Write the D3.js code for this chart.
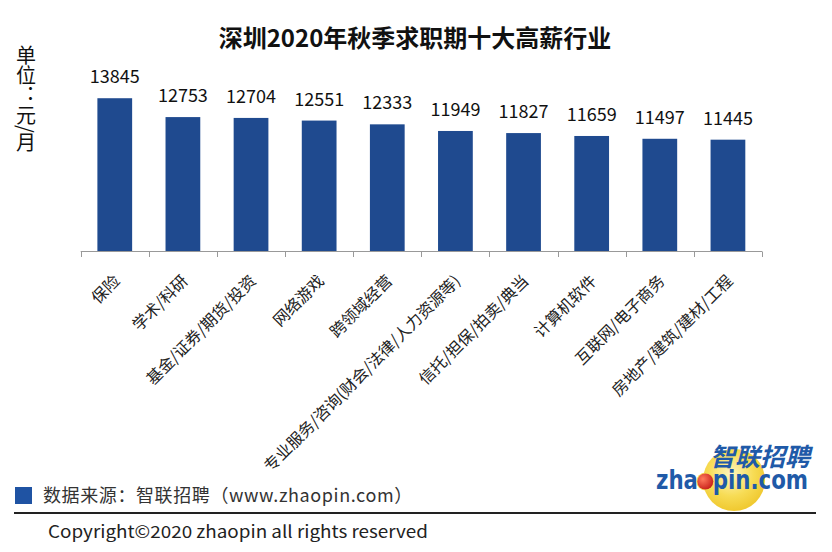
<!DOCTYPE html>
<html><head><meta charset="utf-8">
<script src="https://cdn.jsdelivr.net/npm/d3@7"></script>
<style>
html,body{margin:0;padding:0;background:#fff;}
svg{display:block;font-family:"Noto Sans CJK SC","Noto Sans",sans-serif;}
</style></head>
<body><svg id="c" width="832" height="552"></svg>
<script>
const title = "深圳2020年秋季求职期十大高薪行业";
const categories = ["保险","学术/科研","基金/证券/期货/投资","网络游戏","跨领域经营","专业服务/咨询(财会/法律/人力资源等)","信托/担保/拍卖/典当","计算机软件","互联网/电子商务","房地产/建筑/建材/工程"];
const values = [13845,12753,12704,12551,12333,11949,11827,11659,11497,11445];
const yUnitLabel = "单位：元/月";
const sourceText = "数据来源：智联招聘（www.zhaopin.com）";
const copyright = "Copyright©2020 zhaopin all rights reserved";
const logoCn = "智联招聘";
const logoEn = "zhaopin.com";

const svg = d3.select("#c");
const barColor = "#1f4a8f";

const x = d3.scaleBand().domain(categories).range([80.7, 762]).paddingInner(0.49).paddingOuter(0.245);
const y = d3.scaleLinear().domain([5000, 16000]).range([251, 61]);

// title
svg.append("text").attr("x", 415).attr("y", 47).attr("text-anchor","middle")
  .attr("font-size", 24).attr("font-weight", 700).attr("fill","#111").text(title);

// y unit label (vertical writing)
svg.append("text").attr("x", 26).attr("y", 45)
  .attr("writing-mode","vertical-rl").attr("font-size", 20).attr("fill","#111")
  .text(yUnitLabel);

// bars
svg.append("g").selectAll("rect").data(values).join("rect")
  .attr("x", (d,i)=>x(categories[i]))
  .attr("width", x.bandwidth())
  .attr("y", d=>y(d))
  .attr("height", d=>y.range()[0]-y(d))
  .attr("fill", barColor);

// value labels
svg.append("g").selectAll("text").data(values).join("text")
  .attr("x", (d,i)=>x(categories[i])+x.bandwidth()/2)
  .attr("y", d=>y(d)-15)
  .attr("text-anchor","middle").attr("font-size", 18).attr("fill","#111")
  .text(d=>d);

// x axis line + ticks at category boundaries
const ax = svg.append("g").attr("stroke","#999").attr("stroke-width",1);
const [x0,x1] = x.range();
ax.append("line").attr("x1",x0).attr("x2",x1).attr("y1",251.5).attr("y2",251.5);
d3.range(categories.length+1).forEach(i=>{
  const tx = Math.round(x0 + i*x.step())+0.5;
  ax.append("line").attr("x1",tx).attr("x2",tx).attr("y1",251.5).attr("y2",257);
});

// category labels
svg.append("g").selectAll("text").data(categories).join("text")
  .attr("transform", d=>`translate(${x(d)+x.bandwidth()/2+6},${282}) rotate(-45)`)
  .attr("text-anchor","end").attr("font-size", 16).attr("fill","#222")
  .text(d=>d);

// footer
svg.append("rect").attr("x",15).attr("y",487).attr("width",17).attr("height",17).attr("fill","#1f53a3");
svg.append("text").attr("x",43).attr("y",502).attr("font-size",18).attr("fill","#333")
  .attr("letter-spacing",0.6).text(sourceText);
svg.append("line").attr("x1",14).attr("x2",816).attr("y1",513).attr("y2",513).attr("stroke","#222").attr("stroke-width",2);
svg.append("text").attr("x",48).attr("y",538).attr("font-size",17).attr("fill","#222")
  .attr("textLength",380).attr("lengthAdjust","spacingAndGlyphs").text(copyright);

// logo
const logo = svg.append("g");
const grad = svg.append("defs").append("radialGradient").attr("id","yg").attr("cx","45%").attr("cy","40%").attr("r","60%");
grad.append("stop").attr("offset","0%").attr("stop-color","#fff6c0");
grad.append("stop").attr("offset","60%").attr("stop-color","#f7dc55");
grad.append("stop").attr("offset","100%").attr("stop-color","#f0c930");
logo.append("circle").attr("cx",734).attr("cy",480).attr("r",31).attr("fill","url(#yg)");
logo.append("text").attr("x",810).attr("y",466).attr("text-anchor","end").attr("font-size",25)
  .attr("font-weight",700).attr("font-style","italic").attr("fill","#1f5aa8").text(logoCn);
const zt = logo.append("text").attr("x",656).attr("y",489).attr("font-size",26)
  .attr("font-family","'DejaVu Sans',sans-serif").attr("font-weight",700).attr("fill","#1f5aa8")
  .attr("textLength",152).attr("lengthAdjust","spacingAndGlyphs").text(logoEn);
// red ball over the "o"
const oi = logoEn.indexOf("o");
const ext = zt.node().getExtentOfChar(oi);
const ballR = 8;
logo.append("circle").attr("cx", ext.x + ext.width/2).attr("cy", 489 - 7.5).attr("r", ballR + 1)
  .attr("fill", "#f7dc55");
const bg = svg.select("defs").append("radialGradient").attr("id","rg").attr("cx","35%").attr("cy","35%").attr("r","70%");
bg.append("stop").attr("offset","0%").attr("stop-color","#ff7a5c");
bg.append("stop").attr("offset","100%").attr("stop-color","#c8201a");
logo.append("circle").attr("cx", ext.x + ext.width/2).attr("cy", 489 - 7.5).attr("r", ballR)
  .attr("fill", "url(#rg)");
</script></body></html>
